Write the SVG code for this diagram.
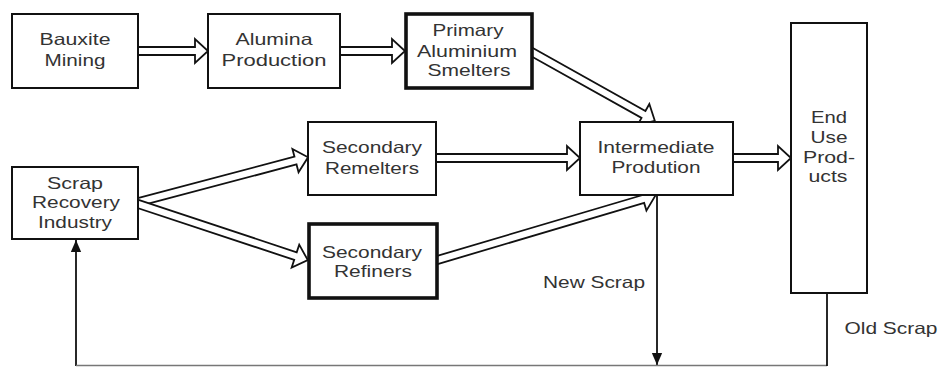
<svg xmlns="http://www.w3.org/2000/svg" width="938" height="367" viewBox="0 0 938 367">
<style>
.box{fill:#fff;stroke:#111;stroke-width:2}
.thick{stroke-width:3.6}
.ar{fill:#fff;stroke:#111;stroke-width:1.8;stroke-linejoin:miter}
.ln{fill:none;stroke:#111;stroke-width:1.8}
text{font-family:"Liberation Sans",Arial,sans-serif;font-size:16.5px;fill:#333;text-anchor:middle}
</style>
<defs>
<marker id="tri" markerWidth="12" markerHeight="16" refX="14" refY="6" orient="auto" markerUnits="userSpaceOnUse" viewBox="0 0 14 12">
<path d="M0,0 L14,6 L0,12 Z" fill="#111"/>
</marker>
</defs>
<g id="connectors">
<polygon class="ar" transform="translate(136,51)" points="0,-4 59,-4 59,-12 72,0 59,12 59,4 0,4"/>
<polygon class="ar" transform="translate(338,51)" points="0,-4 54,-4 54,-12 67,0 54,12 54,4 0,4"/>
<polygon class="ar" transform="translate(530,51) rotate(29.2)" points="0,-4 130,-4 130,-12 143,0 130,12 130,4 0,4"/>
<polygon class="ar" transform="translate(135,203) rotate(-14.8)" points="0,-4 166,-4 166,-12 179,0 166,12 166,4 0,4"/>
<polygon class="ar" transform="translate(135,203) rotate(18.3)" points="0,-4 169,-4 169,-12 182,0 169,12 169,4 0,4"/>
<polygon class="ar" transform="translate(434,158)" points="0,-4 133,-4 133,-12 146,0 133,12 133,4 0,4"/>
<polygon class="ar" transform="translate(434,261) rotate(-16.5)" points="0,-4 218,-4 218,-12 231,0 218,12 218,4 0,4"/>
<polygon class="ar" transform="translate(731,158)" points="0,-4 47,-4 47,-12 60,0 47,12 47,4 0,4"/>
<line class="ln" x1="657" y1="196" x2="657" y2="365" marker-end="url(#tri)"/>
<line class="ln" x1="76" y1="366" x2="76" y2="240" marker-end="url(#tri)"/>
<line x1="76" y1="365.5" x2="827" y2="365.5" stroke="#777" stroke-width="1.5"/>
<line class="ln" x1="827" y1="293" x2="827" y2="366"/>
</g>
<g id="bauxite"><rect class="box" x="12" y="14" width="126" height="74"/>
<text x="75" y="45" textLength="71" lengthAdjust="spacingAndGlyphs">Bauxite</text>
<text x="75" y="66" textLength="61" lengthAdjust="spacingAndGlyphs">Mining</text></g>
<g id="alumina"><rect class="box" x="208" y="14" width="132" height="74"/>
<text x="274" y="45" textLength="77" lengthAdjust="spacingAndGlyphs">Alumina</text>
<text x="274" y="66" textLength="105" lengthAdjust="spacingAndGlyphs">Production</text></g>
<g id="primary"><rect class="box thick" x="406" y="14" width="126" height="74"/>
<text x="468" y="36" textLength="71" lengthAdjust="spacingAndGlyphs">Primary</text>
<text x="467" y="57" textLength="100" lengthAdjust="spacingAndGlyphs">Aluminium</text>
<text x="469" y="76" textLength="83" lengthAdjust="spacingAndGlyphs">Smelters</text></g>
<g id="scrap"><rect class="box" x="12" y="167" width="126" height="72"/>
<text x="75" y="189" textLength="56" lengthAdjust="spacingAndGlyphs">Scrap</text>
<text x="76" y="208" textLength="88" lengthAdjust="spacingAndGlyphs">Recovery</text>
<text x="75" y="228" textLength="74" lengthAdjust="spacingAndGlyphs">Industry</text></g>
<g id="remelters"><rect class="box" x="308" y="122" width="128" height="73"/>
<text x="372" y="153" textLength="100" lengthAdjust="spacingAndGlyphs">Secondary</text>
<text x="372" y="174" textLength="94" lengthAdjust="spacingAndGlyphs">Remelters</text></g>
<g id="refiners"><rect class="box thick" x="309" y="224" width="128" height="74"/>
<text x="372" y="258" textLength="100" lengthAdjust="spacingAndGlyphs">Secondary</text>
<text x="373" y="277" textLength="78" lengthAdjust="spacingAndGlyphs">Refiners</text></g>
<g id="intermediate"><rect class="box" x="580" y="122" width="153" height="73"/>
<text x="656" y="153" textLength="117" lengthAdjust="spacingAndGlyphs">Intermediate</text>
<text x="656" y="173" textLength="89" lengthAdjust="spacingAndGlyphs">Prodution</text></g>
<g id="enduse"><rect class="box" x="791" y="23" width="76" height="270"/>
<text x="829" y="123" textLength="36" lengthAdjust="spacingAndGlyphs">End</text>
<text x="829" y="143" textLength="37" lengthAdjust="spacingAndGlyphs">Use</text>
<text x="829" y="163" textLength="52" lengthAdjust="spacingAndGlyphs">Prod-</text>
<text x="828" y="182" textLength="39" lengthAdjust="spacingAndGlyphs">ucts</text></g>
<g id="labels">
<text x="594" y="288" textLength="102" lengthAdjust="spacingAndGlyphs">New Scrap</text>
<text x="891" y="334" textLength="93" lengthAdjust="spacingAndGlyphs">Old Scrap</text>
</g>
</svg>
